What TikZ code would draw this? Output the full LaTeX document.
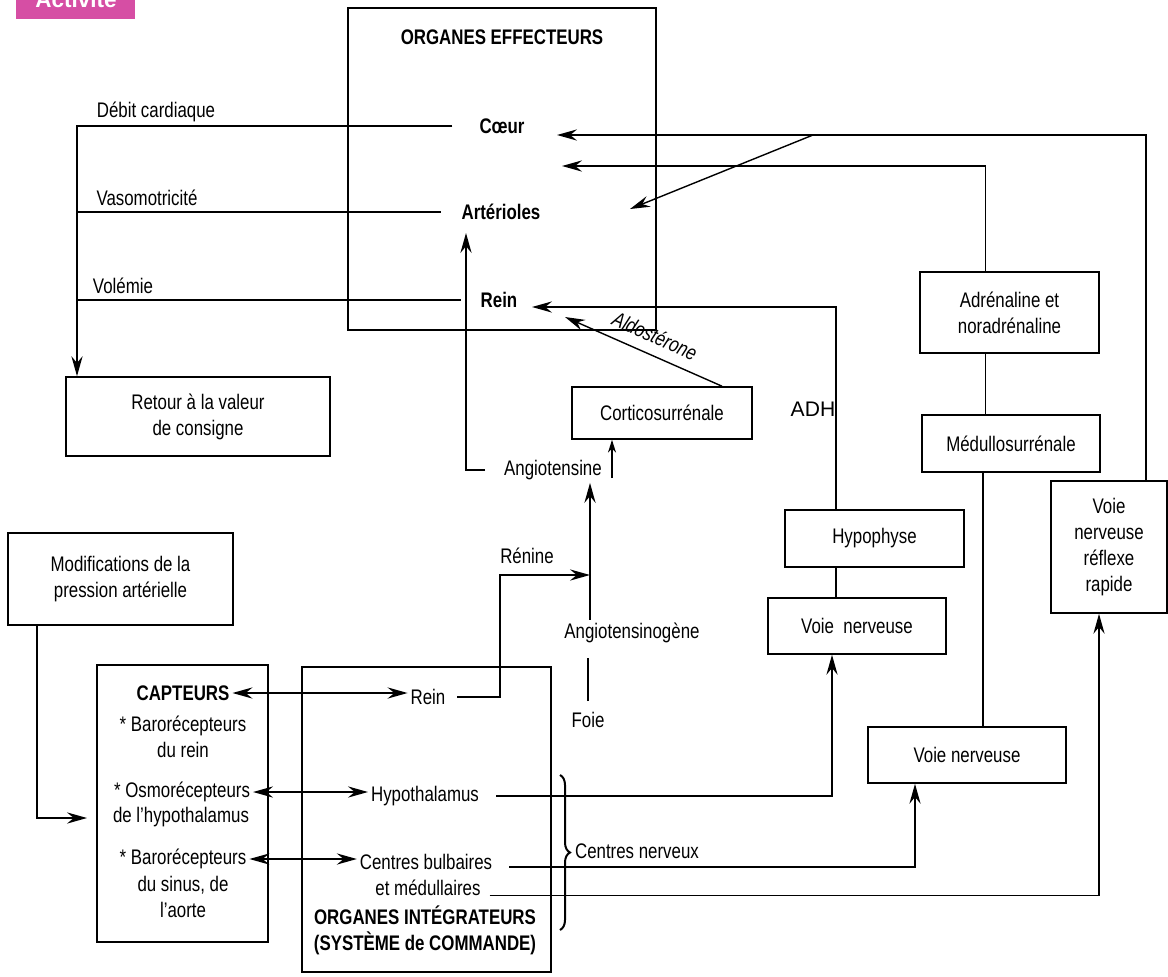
\documentclass[tikz,border=0pt]{standalone}
\usepackage{fontspec}
\setmainfont[FakeStretch=0.8]{Liberation Sans}
\newfontfamily\widesans{Liberation Sans}
\usetikzlibrary{arrows.meta,decorations.pathreplacing}
\definecolor{actmagenta}{RGB}{214,78,164}

\begin{document}
\begin{tikzpicture}[x=0.25mm,y=-0.25mm,
  every node/.style={font=\fontsize{15}{18.5}\selectfont, inner sep=2pt},
  box/.style={draw, line width=0.4mm, align=center},
  txt/.style={align=center},
  ttl/.style={font=\fontsize{15}{18.5}\selectfont\bfseries, align=center},
  wire/.style={line width=0.35mm},
  arr/.style={wire, -{Stealth[length=5mm,width=2.8mm,inset=1.7mm]}},
  dblarr/.style={wire, {Stealth[length=5mm,width=2.8mm,inset=1.7mm]}-{Stealth[length=5mm,width=2.8mm,inset=1.7mm]}},
  tinyarr/.style={wire, -{Stealth[length=3.2mm,width=2mm,inset=1mm]}}]

  \useasboundingbox (0,0) rectangle (1168,976);

  % label in the corner
  \fill[actmagenta] (16,-10) rectangle (135,19);
  \node[font=\widesans\bfseries\fontsize{16}{18}\selectfont, text=white, anchor=base] (activ) at (76,7) {Activité};

  % boxes
  \node[box, minimum width=77mm, minimum height=80.5mm] (effbox) at (502,169) {};
  \node[box, minimum width=66mm, minimum height=19.75mm] (retour) at (198,416.5) {Retour à la valeur\\de consigne};
  \node[box, minimum width=45mm, minimum height=13mm] (cortico) at (662,413) {Corticosurrénale};
  \node[box, minimum width=44.75mm, minimum height=20.25mm] (adren) at (1009.5,312.5) {Adrénaline et\\noradrénaline};
  \node[box, minimum width=44.5mm, minimum height=14.25mm] (medullo) at (1011,443.5) {Médullosurrénale};
  \node[box, minimum width=29mm, minimum height=33mm] (reflexe) at (1109,547) {Voie\\nerveuse\\réflexe\\rapide};
  \node[box, minimum width=44.75mm, minimum height=14.25mm] (hypo) at (874.5,538.5) {Hypophyse};
  \node[box, minimum width=44.5mm, minimum height=14mm] (voieA) at (857,626) {Voie\ \ nerveuse};
  \node[box, minimum width=49.5mm, minimum height=14mm] (voieB) at (967,755) {Voie nerveuse};
  \node[box, minimum width=56.25mm, minimum height=23mm] (modif) at (120.5,579) {Modifications de la\\pression artérielle};
  \node[box, minimum width=42.75mm, minimum height=69.25mm] (capt) at (182.5,803.5) {};
  \node[box, minimum width=62.25mm, minimum height=76.25mm] (integ) at (426.5,819.5) {};

  % texts
  \node[ttl] (efftitle) at (502,37) {ORGANES EFFECTEURS};
  \node[ttl] (coeur) at (502,126) {Cœur};
  \node[ttl] (arter) at (501,212) {Artérioles};
  \node[ttl] (reinE) at (499,300) {Rein};
  \node (debit) at (156,112) {Débit cardiaque};
  \node (vaso) at (147,198) {Vasomotricité};
  \node (volemie) at (123,286) {Volémie};
  \node (angio) at (553,470) {Angiotensine};
  \node (renine) at (527,556) {Rénine};
  \node (angiogene) at (632,633) {Angiotensinogène};
  \node (foie) at (588,720) {Foie};
  \node[font=\widesans\fontsize{15}{18}\selectfont] (adh) at (813,409) {ADH};
  \node[font=\fontsize{15}{18.5}\selectfont\itshape, rotate=-24] (aldo) at (655,336) {Aldostérone};
  \node[ttl] (capttitle) at (183,693) {CAPTEURS};
  \node[txt] (barorein) at (183,737) {* Barorécepteurs\\du rein};
  \node (osmo) at (182,792) {* Osmorécepteurs};
  \node (osmob) at (181,817) {de l’hypothalamus};
  \node (barosin) at (183,859) {* Barorécepteurs};
  \node[txt] (barosinb) at (183,897) {du sinus, de\\l’aorte};
  \node (reinI) at (428,697) {Rein};
  \node (hypoth) at (425,796) {Hypothalamus};
  \node (centres) at (426,862) {Centres bulbaires};
  \node (medul) at (428,888) {et médullaires};
  \node[ttl] (integtitle) at (425,930) {ORGANES INTÉGRATEURS\\(SYSTÈME de COMMANDE)};
  \node (centresN) at (637,851) {Centres nerveux};

  % free ends
  \coordinate (coeurin) at (557,135);
  \coordinate (coeurin2) at (562,166);
  \coordinate (arterin) at (630,209);
  \coordinate (branch) at (813,135);
  \coordinate (reinin) at (532,307);
  \coordinate (reinin2) at (565,317);
  \coordinate (arterbot) at (466,233);
  \coordinate (leftrail) at (77,127);
  \coordinate (renbend) at (500,575);
  \coordinate (renin) at (590,575);
  \coordinate (angiotip) at (612,478);
  \coordinate (captin) at (87,818);
  \coordinate (bracetop) at (560,775);
  \coordinate (bracebot) at (560,930);

  % effectors to the left rail
  \draw[arr] ([xshift=-6mm]coeur.west) -| (leftrail |- retour.north);
  \draw[wire] ([xshift=-4.5mm]arter.west) -- (arter.west -| leftrail);
  \draw[wire] ([xshift=-4.25mm]reinE.west) -- (reinE.west -| leftrail);

  % hormonal and nervous paths
  \draw[arr] ([xshift=9.25mm]reflexe.north) |- (coeurin);
  \draw[arr] (branch) -- (arterin);
  \draw[arr] ([xshift=-6mm]adren.north) |- (coeurin2);
  \draw[wire] ([xshift=-6mm]adren.south) -- ([xshift=-6mm]adren.south |- medullo.north);
  \draw[wire] ([xshift=-7mm]medullo.south) -- ([xshift=-7mm]medullo.south |- voieB.north);
  \draw[arr] ([xshift=-9.6mm]hypo.north) |- (reinin);
  \draw[wire] ([xshift=-9.6mm]hypo.south) -- ([xshift=-9.6mm]hypo.south |- voieA.north);
  \draw[arr] ([xshift=15mm]cortico.north) -- (reinin2);
  \draw[arr] ([xshift=-4mm]angio.west) -| (arterbot);
  \draw[tinyarr] (angiotip) -- (angiotip |- cortico.south);
  \draw[arr] ([xshift=2.25mm]reinI.east) -| (renbend) -- (renin);
  \draw[arr] (angiogene.north -| renin) -- (angio.south -| renin);
  \draw[wire] ([yshift=2mm]foie.north) -- ([yshift=-3mm]angiogene.south -| foie.north);

  % sensors and integrators
  \draw[arr] ([xshift=-20.9mm]modif.south) |- (captin);
  \draw[dblarr] (capttitle.east) -- (capttitle.east -| reinI.west);
  \draw[dblarr] (osmo.east) -- (osmo.east -| hypoth.west);
  \draw[dblarr] (barosin.east) -- (barosin.east -| centres.west);
  \draw[arr] ([xshift=3.5mm]hypoth.east) -| ([xshift=-6.25mm]voieA.south);
  \draw[arr] ([xshift=3.5mm,yshift=-1.25mm]centres.east) -| ([xshift=-13mm]voieB.south);
  \draw[arr] ([xshift=1.5mm]medul.base east) -| ([xshift=-2.5mm]reflexe.south);
  \draw[line width=0.5mm, decorate, decoration={brace, amplitude=2.5mm}] (bracetop) -- (bracebot);

\end{tikzpicture}
\end{document}
